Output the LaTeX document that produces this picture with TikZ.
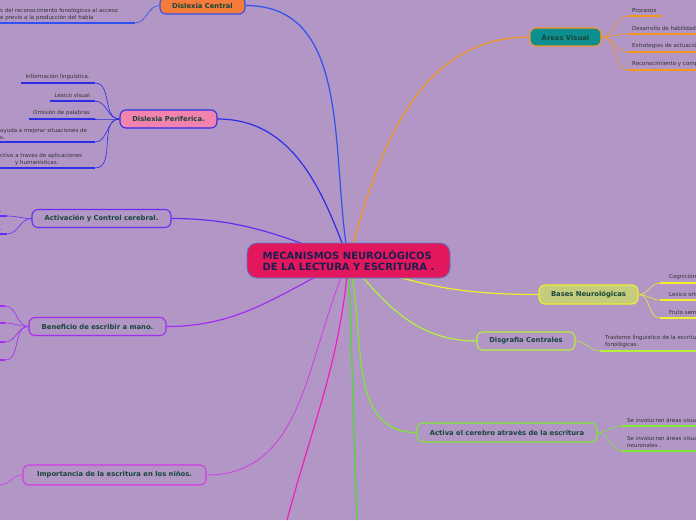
\documentclass[tikz,border=0pt]{standalone}
\usepackage{fontspec}
\usepackage{tikz}
\usetikzlibrary{positioning, backgrounds}
\newfontfamily\mapfont{DejaVu Sans}
\definecolor{cBg}       {HTML}{B196C6}
\definecolor{cLabel}    {HTML}{17463A}
\definecolor{cTitle}    {HTML}{1C1F4E}
\definecolor{cTitleFill}{HTML}{E3175E}
\definecolor{cTitleLine}{HTML}{4A86C8}
\definecolor{cChild}    {HTML}{333333}
\definecolor{cBlueA}    {HTML}{3050F0}
\definecolor{cBlueB}    {HTML}{2E2EE6}
\definecolor{cViolet}   {HTML}{6B2BF0}
\definecolor{cPurple}   {HTML}{A52CF0}
\definecolor{cMagenta}  {HTML}{D43AE6}
\definecolor{cPink}     {HTML}{F020B8}
\definecolor{cGreen}    {HTML}{44E02A}
\definecolor{cOrange}   {HTML}{F5961E}
\definecolor{cYellow}   {HTML}{F2EE2A}
\definecolor{cLime}     {HTML}{B6F03A}
\definecolor{cGreenB}   {HTML}{7EE832}
\definecolor{cOrangeF}  {HTML}{F47B3C}
\definecolor{cPinkF}    {HTML}{F282AE}
\definecolor{cTeal}     {HTML}{0E8F8F}
\definecolor{cOlive}    {HTML}{C4CC7E}

\begin{document}
\begin{tikzpicture}[x=1pt, y=1pt,
    title/.style={fill=cTitleFill, draw=cTitleLine, line width=0.8pt, rounded corners=10pt,
      minimum width=203pt, minimum height=35pt, align=left, text=cTitle,
      font=\mapfont\bfseries\fontsize{10}{11.5}\selectfont},
    topic/.style={draw=#1, line width=1.1pt, rounded corners=6pt, minimum height=18pt,
      inner sep=2pt, text=cLabel, font=\mapfont\bfseries\fontsize{6.8}{8}\selectfont},
    leaf/.style={inner sep=0pt, align=left, text=cChild,
      font=\mapfont\fontsize{5.5}{7}\selectfont},
    branch/.style={draw=#1, line width=1.2pt},
    twig/.style={draw=#1, line width=0.6pt},
    uline/.style={draw=#1, line width=1.8pt},
  ]
  \useasboundingbox (0,0) rectangle (696,-520);
  \begin{scope}[on background layer]
    \fill[cBg] (0,0) rectangle (696,-520);
  \end{scope}

  % central topic
  \node[title] (mc) at (348.5,-260.5) {MECANISMOS NEUROLÓGICOS\\DE LA LECTURA Y ESCRITURA .};

  % left topics
  \node[topic=cBlueA, fill=cOrangeF, minimum width=85pt, minimum height=17pt] (dc) at (202.5,-5.5) {Dislexia Central};
  \node[topic=cBlueB, fill=cPinkF, minimum width=97pt] (dp) at (168.5,-119) {Dislexia Periferica.};
  \node[topic=cViolet, minimum width=139pt] (ac) at (101.5,-218.5) {Activación y Control cerebral.};
  \node[topic=cPurple, minimum width=137pt] (bm) at (97.5,-326.5) {Beneficio de escribir a mano.};
  \node[topic=cMagenta, minimum width=183pt, minimum height=20pt] (im) at (114.5,-475) {Importancia de la escritura en los niños.};

  % right topics
  \node[topic=cOrange, fill=cTeal, minimum width=71pt] (av) at (565.5,-37) {Áreas Visual};
  \node[topic=cYellow, fill=cOlive, minimum width=99pt, minimum height=19pt] (bn) at (588.5,-294.5) {Bases Neurológicas};
  \node[topic=cLime, minimum width=98pt] (dg) at (526,-341) {Disgrafia Centrales};
  \node[topic=cGreenB, minimum width=180pt, minimum height=19pt] (ae) at (507,-432.5) {Activa el cerebro atravès de la escritura};

  % branches from the centre
  \coordinate (pk) at (287,-520);
  \coordinate (gr) at (357,-520);
  \begin{scope}[on background layer]
    \draw[branch=cBlueA] (mc.center) to[out=100, in=0] (dc.east);
    \draw[branch=cBlueB] (mc.center) to[out=110, in=0] (dp.east);
    \draw[branch=cViolet] (mc.center) to[out=160, in=0] (ac.east);
    \draw[branch=cPurple] (mc.center) to[out=205, in=0] (bm.east);
    \draw[branch=cMagenta, line width=0.8pt] (mc.center) to[out=245, in=0] (im.east);
    \draw[branch=cPink] (mc.center) to[out=-95, in=75] (pk);
    \draw[branch=cGreen] (mc.center) to[out=-88, in=92] (gr);
    \draw[branch=cOrange] (mc.center) to[out=75, in=180] (av.west);
    \draw[branch=cYellow] (mc.center) to[out=-20, in=180] (bn.west);
    \draw[branch=cLime] (mc.center) to[out=-50, in=180] (dg.west);
    \draw[branch=cGreenB] (mc.center) to[out=-75, in=180] (ae.west);
  \end{scope}

  % Dislexia Central
  \node[leaf, anchor=south west] (dc1) at (0,-20.5) {s del reconocimiento fonológicos al acceso\\e previo a la producción del habla};
  \coordinate (dc1a) at (0,-23);  \coordinate (dc1b) at (135,-23);
  \draw[uline=cBlueA] (dc1a) -- (dc1b);
  \draw[twig=cBlueA] (dc1b) to[out=0, in=180] (dc.west);

  % Dislexia Periferica
  \node[leaf, anchor=south east] (dp1) at (90,-80) {Información linguística.};
  \node[leaf, anchor=south east] (dp2) at (90,-98) {Lexico visual};
  \node[leaf, anchor=south east] (dp3) at (90,-116) {Omisión de palabras};
  \node[leaf, anchor=south west] (dp4) at (0,-139.5) {ayuda a mejorar situaciones de\\s.};
  \node[leaf, anchor=south west] (dp5) at (0,-165.5) {ctivo a traves de aplicaciones\\\hspace*{15pt}y humanísticas.};
  \coordinate (dp1a) at (21,-83);  \coordinate (dp1b) at (95,-83);
  \coordinate (dp2a) at (50,-101); \coordinate (dp2b) at (95,-101);
  \coordinate (dp3a) at (29,-119); \coordinate (dp3b) at (95,-119);
  \coordinate (dp4a) at (0,-142);  \coordinate (dp4b) at (95,-142);
  \coordinate (dp5a) at (0,-168);  \coordinate (dp5b) at (95,-168);
  \foreach \k in {1,...,5} {
    \draw[uline=cBlueB] (dp\k a) -- (dp\k b);
    \draw[twig=cBlueB] (dp\k b) to[out=0, in=180] (dp.west);
  }

  % Activacion y Control cerebral
  \node[leaf, anchor=south west] (ac1) at (0,-213) {.};
  \node[leaf, anchor=south west] (ac2) at (0,-231) {.};
  \coordinate (ac1a) at (0,-216); \coordinate (ac1b) at (7,-216);
  \coordinate (ac2a) at (0,-234); \coordinate (ac2b) at (7,-234);
  \foreach \k in {1,2} {
    \draw[uline=cViolet] (ac\k a) -- (ac\k b);
    \draw[twig=cViolet] (ac\k b) to[out=0, in=180] (ac.west);
  }

  % Beneficio de escribir a mano
  \foreach \k/\y in {1/306, 2/323, 3/342, 4/360} {
    \coordinate (bm\k a) at (0,-\y); \coordinate (bm\k b) at (5,-\y);
    \draw[uline=cPurple] (bm\k a) -- (bm\k b);
    \draw[twig=cPurple] (bm\k b) to[out=0, in=180] (bm.west);
  }

  % Importancia de la escritura
  \coordinate (im1b) at (0,-485);
  \draw[twig=cMagenta] (im1b) to[out=0, in=180] (im.west);

  % Areas Visual
  \node[leaf, anchor=south west] (av1) at (632,-13) {Procesos};
  \node[leaf, anchor=south west] (av2) at (632,-31) {Desarrollo de habilidades};
  \node[leaf, anchor=south west] (av3) at (632,-49) {Estrategias de actuación};
  \node[leaf, anchor=south west] (av4) at (632,-67) {Reconocimiento y comp};
  \coordinate (av1a) at (628,-16); \coordinate (av1b) at (662,-16);
  \coordinate (av2a) at (628,-34); \coordinate (av2b) at (700,-34);
  \coordinate (av3a) at (628,-52); \coordinate (av3b) at (700,-52);
  \coordinate (av4a) at (628,-70); \coordinate (av4b) at (700,-70);
  \foreach \k in {1,...,4} {
    \draw[uline=cOrange] (av\k a) -- (av\k b);
    \draw[twig=cOrange] (av.east) to[out=0, in=180] (av\k a);
  }

  % Bases Neurologicas
  \node[leaf, anchor=south west] (bn1) at (669,-280) {Cognición};
  \node[leaf, anchor=south west] (bn2) at (669,-297) {Lexico ort};
  \node[leaf, anchor=south west] (bn3) at (669,-315) {Fruto sem};
  \coordinate (bn1a) at (660,-283); \coordinate (bn1b) at (700,-283);
  \coordinate (bn2a) at (660,-300); \coordinate (bn2b) at (700,-300);
  \coordinate (bn3a) at (660,-318); \coordinate (bn3b) at (700,-318);
  \foreach \k in {1,2,3} {
    \draw[uline=cYellow] (bn\k a) -- (bn\k b);
    \draw[twig=cYellow] (bn.east) to[out=0, in=180] (bn\k a);
  }

  % Disgrafia Centrales
  \node[leaf, anchor=south west] (dg1) at (605,-348) {Trastorno linguistico de la escritura\\fonológicas.};
  \coordinate (dg1a) at (600,-351); \coordinate (dg1b) at (700,-351);
  \draw[uline=cLime] (dg1a) -- (dg1b);
  \draw[twig=cLime] (dg.east) to[out=0, in=180] (dg1a);

  % Activa el cerebro
  \node[leaf, anchor=south west] (ae1) at (627,-423) {Se involucran áreas visua};
  \node[leaf, anchor=south west] (ae2) at (627,-448) {Se involucran áreas visua\\neuronales .};
  \coordinate (ae1a) at (622,-426); \coordinate (ae1b) at (700,-426);
  \coordinate (ae2a) at (622,-451); \coordinate (ae2b) at (700,-451);
  \foreach \k in {1,2} {
    \draw[uline=cGreenB] (ae\k a) -- (ae\k b);
    \draw[twig=cGreenB] (ae.east) to[out=0, in=180] (ae\k a);
  }
\end{tikzpicture}
\end{document}
